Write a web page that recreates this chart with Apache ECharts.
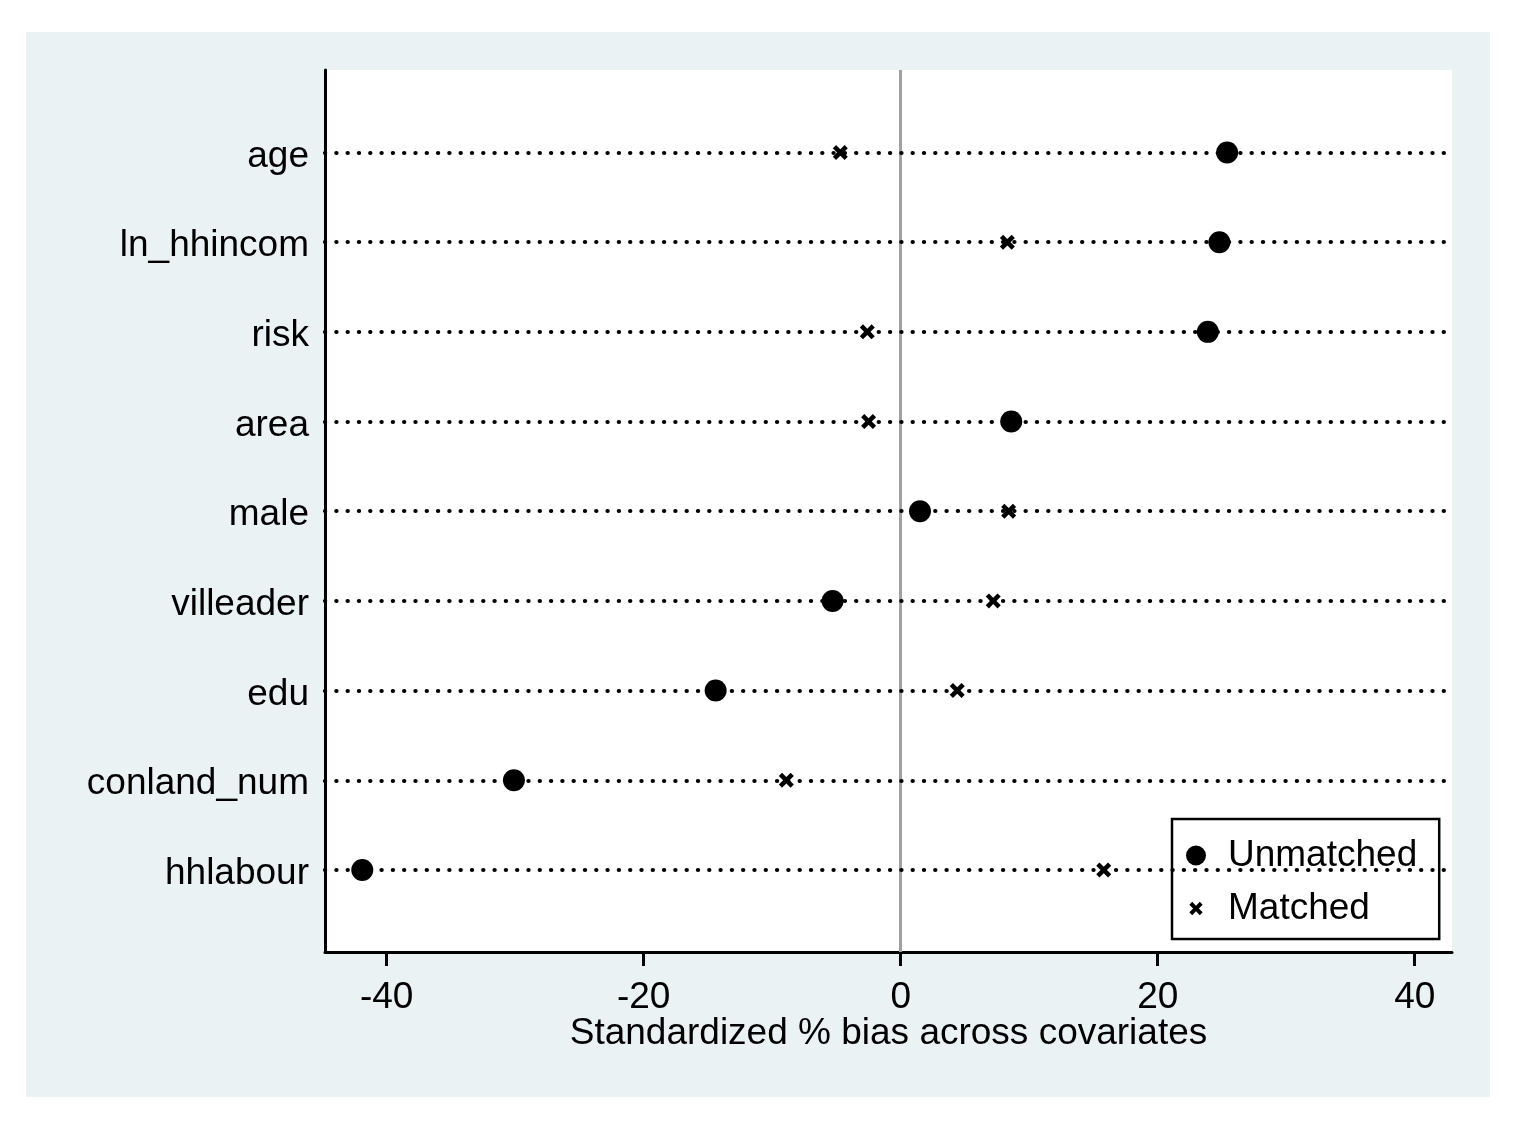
<!DOCTYPE html>
<html>
<head>
<meta charset="utf-8">
<script src="https://cdn.jsdelivr.net/npm/echarts@6/dist/echarts.min.js"></script>
<style>
  html, body { margin: 0; padding: 0; background: #ffffff; width: 1524px; height: 1131px; overflow: hidden; }
  #panel { position: absolute; left: 26px; top: 32px; width: 1464px; height: 1065px; background: #eaf2f3; }
</style>
</head>
<body>
<div id="panel"></div>
<script>
// ---- data ----
const categories = ['age', 'ln_hhincom', 'risk', 'area', 'male', 'villeader', 'edu', 'conland_num', 'hhlabour'];
const unmatched = [25.4, 24.8, 23.9, 8.6, 1.5, -5.3, -14.4, -30.1, -41.9];
const matched   = [-4.7, 8.3, -2.6, -2.5, 8.4, 7.2, 4.4, -8.9, 15.8];
const xTicks = [-40, -20, 0, 20, 40];
const seriesNames = ['Unmatched', 'Matched'];
const xTitle = 'Standardized % bias across covariates';

// ---- chart ----
const FONT = 'Liberation Sans, Arial, sans-serif';
const FS = 37;
const crossPath = 'path://M0,3 L3,0 L7,4 L11,0 L14,3 L10,7 L14,11 L11,14 L7,10 L3,14 L0,11 L4,7 Z';
const crossLegend = 'path://M-3.5,-3.5 M17.5,17.5 M0,3 L3,0 L7,4 L11,0 L14,3 L10,7 L14,11 L11,14 L7,10 L3,14 L0,11 L4,7 Z';

const rowPos = categories.map((c, i) => i + 1);
const unmatchedData = unmatched.map((v, i) => [v, i + 1]);
const matchedData = matched.map((v, i) => [v, i + 1]);

const chart = echarts.init(document.getElementById('panel'), null, { renderer: 'canvas' });
chart.setOption({
  animation: false,
  backgroundColor: 'transparent',
  textStyle: { fontFamily: FONT },
  grid: {
    show: true, backgroundColor: '#ffffff', borderWidth: 0,
    left: 299, top: 38, right: 38, bottom: 145
  },
  legend: {
    show: true,
    orient: 'vertical',
    left: 1146, top: 787,
    backgroundColor: '#ffffff',
    borderColor: '#000000', borderWidth: 2.5, borderRadius: 0,
    padding: [17, 22, 11, 14],
    itemWidth: 20, itemHeight: 20, itemGap: 14,
    selectedMode: false,
    textStyle: { fontSize: FS, color: '#000', fontFamily: FONT, lineHeight: 39, padding: [0, 0, 0, 17] },
    data: [
      { name: seriesNames[0], icon: 'circle', itemStyle: { color: '#000', opacity: 1 } },
      { name: seriesNames[1], icon: crossLegend, itemStyle: { color: '#000', opacity: 1 } }
    ]
  },
  xAxis: {
    type: 'value',
    min: -44.8, max: 42.9,
    name: xTitle,
    nameLocation: 'middle',
    nameGap: 63,
    nameMoveOverlap: false,
    nameTextStyle: { fontSize: FS, color: '#000', fontFamily: FONT },
    axisLine: { show: true, onZero: false, lineStyle: { color: '#000', width: 3 } },
    axisTick: { show: true, customValues: xTicks, length: 14, lineStyle: { color: '#000', width: 3 } },
    axisLabel: { show: true, customValues: xTicks, fontSize: FS, color: '#000', margin: 27, fontFamily: FONT },
    splitLine: { show: false }
  },
  yAxis: {
    type: 'value',
    inverse: true,
    min: 0.08, max: 9.915,
    axisLine: { show: true, onZero: false, lineStyle: { color: '#000', width: 3 } },
    axisTick: { show: false, customValues: rowPos },
    axisLabel: {
      show: true, customValues: rowPos, fontSize: FS, color: '#000', margin: 16, fontFamily: FONT,
      formatter: v => '{a|' + (categories[Math.round(v) - 1] || '') + '}',
      rich: { a: { fontSize: FS, color: '#000', fontFamily: FONT, padding: [8, 0, 0, 0] } }
    },
    splitLine: { show: false }
  },
  series: [
    {
      name: 'zero', type: 'scatter', data: [], z: 1, silent: true,
      markLine: {
        silent: true, symbol: 'none', label: { show: false },
        lineStyle: { color: '#a0a0a0', width: 3, type: 'solid', opacity: 1 },
        data: [{ xAxis: 0 }]
      }
    },
    {
      name: 'rows', type: 'scatter', data: [], z: 2, silent: true,
      markLine: {
        silent: true, symbol: 'none', label: { show: false },
        lineStyle: { color: '#000', width: 4.2, type: [0.2, 11.1], cap: 'round', opacity: 1 },
        data: rowPos.map(p => ({ yAxis: p }))
      }
    },
    {
      name: seriesNames[0], type: 'scatter', z: 5,
      symbol: 'circle', symbolSize: 22,
      itemStyle: { color: '#000', opacity: 1 },
      emphasis: { disabled: true },
      data: unmatchedData
    },
    {
      name: seriesNames[1], type: 'scatter', z: 5,
      symbol: crossPath, symbolSize: 15,
      itemStyle: { color: '#000', opacity: 1 },
      emphasis: { disabled: true },
      data: matchedData
    }
  ]
});
</script>
</body>
</html>
